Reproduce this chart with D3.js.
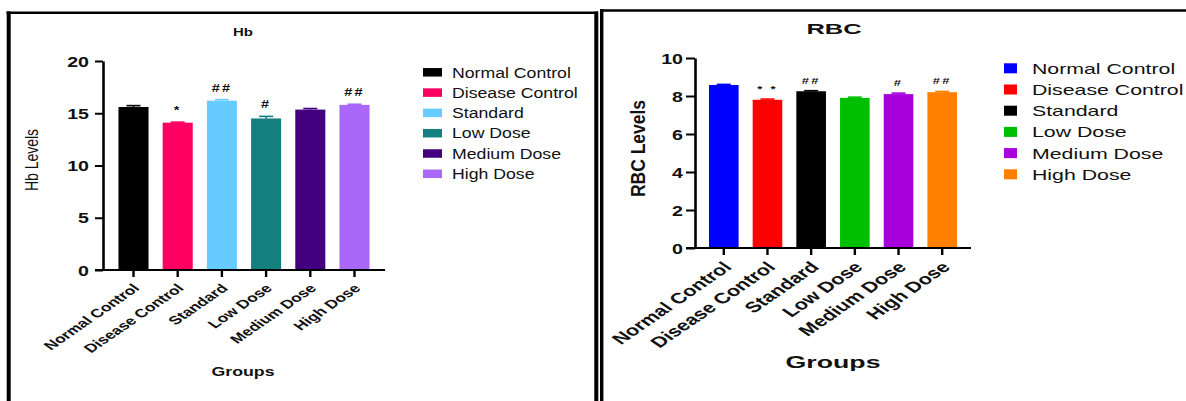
<!DOCTYPE html>
<html>
<head>
<meta charset="utf-8">
<script src="https://cdn.jsdelivr.net/npm/d3@7"></script>
<style>
  html, body { margin: 0; padding: 0; background: #ffffff; }
  svg { display: block; }
  text { font-family: "Liberation Sans", Arial, Helvetica, sans-serif; fill: #111; }
</style>
</head>
<body>
<script>
// ---------- data ----------
const groups = ["Normal Control", "Disease Control", "Standard", "Low Dose", "Medium Dose", "High Dose"];

const hbValues = [15.6, 14.1, 16.2, 14.5, 15.35, 15.8];
const hbErrors = [0.13, 0.05, 0.1, 0.2, 0.1, 0.06];
const hbMarks = ["", "*", "##", "#", "", "##"];
const hbColors = ["#000000", "#ff0062", "#66ccff", "#137f7f", "#42007f", "#a968fa"];
const hbTicks = [0, 5, 10, 15, 20];

const rbcValues = [8.58, 7.8, 8.25, 7.9, 8.1, 8.2];
const rbcErrors = [0.03, 0.04, 0.03, 0.04, 0.05, 0.04];
const rbcMarks = ["", "* *", "##", "", "#", "##"];
const rbcColors = ["#0000ff", "#ff0000", "#000000", "#00bf00", "#a700dd", "#ff8000"];
const rbcTicks = [0, 2, 4, 6, 8, 10];

// ---------- drawing ----------
const W = 1186, H = 401;
const svg = d3.select("body").append("svg").attr("width", W).attr("height", H);

function stext(g, str, x, y, o) {
  return g.append("text")
    .attr("transform", `translate(${x},${y}) scale(${o.sx || 1},1)` + (o.rot ? ` rotate(${o.rot})` : ""))
    .attr("text-anchor", o.anchor || "start")
    .style("font-size", o.size + "px")
    .style("font-weight", o.bold ? "bold" : "normal")
    .style("letter-spacing", o.ls ? o.ls + "px" : null)
    .text(str);
}

// panel frames
const frame = svg.append("g").attr("fill", "none").attr("stroke", "#000");
frame.append("line").attr("x1", 6.5).attr("x2", 598).attr("y1", 12.8).attr("y2", 12.8).attr("stroke-width", 2.6);
frame.append("line").attr("x1", 8.7).attr("x2", 8.7).attr("y1", 11.5).attr("y2", 410).attr("stroke-width", 4);
frame.append("line").attr("x1", 596.3).attr("x2", 596.3).attr("y1", 11.5).attr("y2", 410).attr("stroke-width", 4);
frame.append("line").attr("x1", 600).attr("x2", 1190).attr("y1", 10.5).attr("y2", 10.5).attr("stroke-width", 2.6);
frame.append("line").attr("x1", 601.7).attr("x2", 601.7).attr("y1", 9.2).attr("y2", 410).attr("stroke-width", 3.4);

function drawPanel(c) {
  const g = svg.append("g");
  const x = d3.scaleBand().domain(groups).range(c.xr).paddingInner(c.pi).paddingOuter(c.po);
  const y = d3.scaleLinear().domain([0, c.max]).range(c.yr);

  // bars
  g.selectAll("rect.bar").data(groups).join("rect")
    .attr("class", "bar")
    .attr("x", d => x(d))
    .attr("width", x.bandwidth())
    .attr("y", (d, i) => y(c.values[i]))
    .attr("height", (d, i) => y(0) - y(c.values[i]))
    .attr("fill", (d, i) => c.colors[i]);

  // error bars
  const eb = g.selectAll("g.eb").data(groups).join("g").attr("class", "eb")
    .attr("stroke", (d, i) => c.colors[i]).attr("stroke-width", 1.6);
  eb.append("line")
    .attr("x1", d => x(d) + x.bandwidth() / 2).attr("x2", d => x(d) + x.bandwidth() / 2)
    .attr("y1", (d, i) => y(c.values[i])).attr("y2", (d, i) => y(c.values[i] + c.errors[i]));
  eb.append("line")
    .attr("x1", d => x(d) + x.bandwidth() / 2 - c.cap).attr("x2", d => x(d) + x.bandwidth() / 2 + c.cap)
    .attr("y1", (d, i) => y(c.values[i] + c.errors[i])).attr("y2", (d, i) => y(c.values[i] + c.errors[i]));

  // significance marks
  groups.forEach((d, i) => {
    if (!c.marks[i]) return;
    stext(g, c.marks[i], x(d) + x.bandwidth() / 2, y(c.values[i] + c.errors[i]) - c.markOff,
      { size: c.markSize, bold: true, sx: 1.45, anchor: "middle", ls: 1.5 });
  });

  // y axis
  const ya = g.append("g").attr("transform", `translate(${c.xr[0]},0)`)
    .call(d3.axisLeft(y).tickValues(c.ticks).tickSize(c.ytick).tickSizeOuter(0).tickFormat(d3.format("d")));
  ya.select(".domain").attr("stroke", "#000").attr("stroke-width", c.yw);
  ya.selectAll(".tick line").attr("stroke", "#000").attr("stroke-width", 2);
  ya.selectAll(".tick text")
    .attr("x", null).attr("dy", null)
    .attr("transform", `translate(${-c.ylabGap},${c.tickSize * 0.36}) scale(1.4,1)`)
    .attr("text-anchor", "end")
    .style("font-size", c.tickSize + "px").style("font-weight", "bold")
    .style("font-family", '"Liberation Sans", Arial, sans-serif').attr("fill", "#111");

  // x axis
  const xa = g.append("g").attr("transform", `translate(0,${c.yr[0]})`)
    .call(d3.axisBottom(x).tickSize(7).tickSizeOuter(0));
  xa.select(".domain").attr("stroke", "#000").attr("stroke-width", 2.2)
    .attr("d", `M${c.xr[0] - c.ytick},0H${c.xr[1]}`);
  xa.selectAll(".tick line").attr("stroke", "#000").attr("stroke-width", 2.4);
  xa.selectAll(".tick text").remove();
  groups.forEach(d => {
    stext(g, d, x(d) + x.bandwidth() / 2 + c.xlabDx, c.yr[0] + c.xlabDy,
      { size: c.xlabSize, bold: true, sx: 1.45, rot: -45, anchor: "end" });
  });

  // titles
  stext(g, c.title, c.titleX, c.titleY, { size: c.titleSize, bold: true, sx: c.titleSx, anchor: "middle" });
  stext(g, "Groups", c.groupsX, c.groupsY, { size: c.groupsSize, bold: true, sx: c.groupsSx, anchor: "middle" });
  stext(g, c.ylabel, c.ylabX, c.ylabY, { size: c.ylabSize, bold: c.ylabBold, sx: c.ylabSx, rot: -90, anchor: "middle" });

  // legend
  const lg = g.append("g");
  groups.forEach((d, i) => {
    const cy = c.legY + i * c.legStep;
    lg.append("rect").attr("x", c.legX).attr("y", cy - c.swH / 2).attr("width", c.swW).attr("height", c.swH)
      .attr("fill", c.colors[i]);
    stext(lg, d, c.legTX, cy + c.legSize * 0.36, { size: c.legSize, sx: c.legSx });
  });
}

drawPanel({
  values: hbValues, errors: hbErrors, marks: hbMarks, colors: hbColors, ticks: hbTicks, max: 20,
  xr: [103, 385], yr: [270, 61], pi: 0.32, po: 0.35, cap: 7,
  markOff: 8, markSize: 10,
  ytick: 8, yw: 2.6, ylabGap: 14, tickSize: 14,
  xlabDx: 7, xlabDy: 19, xlabSize: 12,
  title: "Hb", titleX: 243, titleY: 36, titleSize: 10, titleSx: 1.5,
  groupsX: 243, groupsY: 376, groupsSize: 12, groupsSx: 1.48,
  ylabel: "Hb Levels", ylabX: 38, ylabY: 160, ylabSize: 14, ylabBold: false, ylabSx: 1.3,
  legX: 423, legY: 72.3, legStep: 20.3, swW: 19, swH: 8.5, legTX: 452, legSize: 14.5, legSx: 1.22
});

drawPanel({
  values: rbcValues, errors: rbcErrors, marks: rbcMarks, colors: rbcColors, ticks: rbcTicks, max: 10,
  xr: [695, 971], yr: [248, 58], pi: 0.322, po: 0.32, cap: 7,
  markOff: 7, markSize: 9,
  ytick: 9, yw: 2.6, ylabGap: 12, tickSize: 14,
  xlabDx: 9, xlabDy: 20, xlabSize: 15,
  title: "RBC", titleX: 834, titleY: 34, titleSize: 15, titleSx: 1.7,
  groupsX: 833, groupsY: 368, groupsSize: 16.5, groupsSx: 1.62,
  ylabel: "RBC Levels", ylabX: 645, ylabY: 148.5, ylabSize: 17.5, ylabBold: true, ylabSx: 1.2,
  legX: 1004, legY: 68.3, legStep: 21.2, swW: 13, swH: 10, legTX: 1032, legSize: 15, legSx: 1.42
});
</script>
</body>
</html>
